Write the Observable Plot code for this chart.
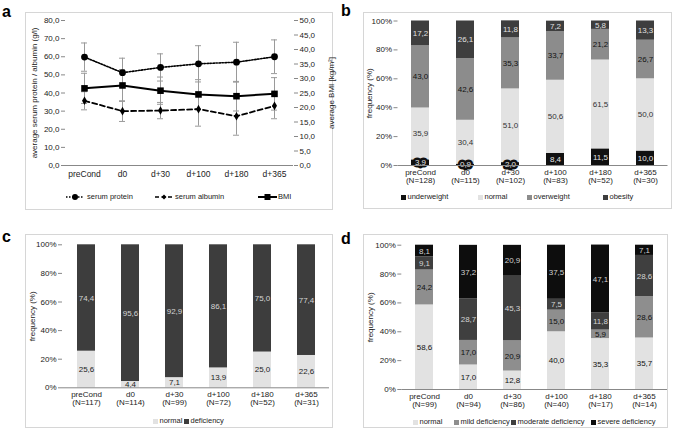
<!DOCTYPE html>
<html><head><meta charset="utf-8">
<script src="https://cdn.jsdelivr.net/npm/d3@7"></script>
<script src="https://cdn.jsdelivr.net/npm/@observablehq/plot@0.6"></script>
<style>
html,body{margin:0;padding:0;background:#fff;}
#root{position:relative;width:676px;height:438px;overflow:hidden;font-family:"Liberation Sans",Arial,sans-serif;}
.box{position:absolute;border:1px solid #d6d6d6;box-sizing:border-box;}
.panel{position:absolute;}
.panel svg{overflow:visible;display:block;}
.letter{position:absolute;font-weight:bold;font-size:16px;line-height:16px;color:#000;}
.item{position:absolute;display:flex;align-items:center;height:10px;font-size:7.5px;line-height:10px;color:#222;white-space:nowrap;}
.sw{display:inline-block;width:5px;height:5px;margin-right:1.5px;}
</style></head><body><div id="root"></div>
<script>
// ---------- data ----------
const categories = ["preCond", "d0", "d+30", "d+100", "d+180", "d+365"];

// panel a
const proteinMean = [59.8, 51.2, 54.1, 56.1, 57.0, 60.0];
const proteinSD   = [7.8, 8.0, 7.5, 10.0, 11.0, 9.3];
const albuminMean = [35.7, 30.0, 30.3, 31.1, 27.2, 32.9];
const albuminSD   = [5.0, 5.7, 4.5, 9.4, 10.5, 7.1];
const bmiMean     = [26.6, 27.6, 25.8, 24.5, 23.9, 24.7];
const bmiSD       = [5.2, 5.5, 4.7, 5.1, 5.1, 5.6];
const leftTicks   = [0, 10, 20, 30, 40, 50, 60, 70, 80];
const rightTicks  = [0, 5, 10, 15, 20, 25, 30, 35, 40, 45, 50];
const seriesA     = ["serum protein", "serum albumin", "BMI"];

// panel b
const nB          = [128, 115, 102, 83, 52, 30];
const groupsB     = ["underweight", "normal", "overweight", "obesity"];
const underweight = [3.9, 0.9, 2.0, 8.4, 11.5, 10.0];
const normalB     = [35.9, 30.4, 51.0, 50.6, 61.5, 50.0];
const overweight  = [43.0, 42.6, 35.3, 33.7, 21.2, 26.7];
const obesity     = [17.2, 26.1, 11.8, 7.2, 5.8, 13.3];

// panel c
const nC          = [117, 114, 99, 72, 52, 31];
const groupsC     = ["normal", "deficiency"];
const normalC     = [25.6, 4.4, 7.1, 13.9, 25.0, 22.6];
const deficiencyC = [74.4, 95.6, 92.9, 86.1, 75.0, 77.4];

// panel d
const nD          = [99, 94, 86, 40, 17, 14];
const groupsD     = ["normal", "mild deficiency", "moderate deficiency", "severe deficiency"];
const normalD     = [58.6, 17.0, 12.8, 40.0, 35.3, 35.7];
const mildD       = [24.2, 17.0, 20.9, 15.0, 5.9, 28.6];
const moderateD   = [9.1, 28.7, 45.3, 7.5, 11.8, 28.6];
const severeD     = [8.1, 37.2, 20.9, 37.5, 47.1, 7.1];

const pctTicks    = [0, 20, 40, 60, 80, 100];

// ---------- helpers ----------
const FONT = '"Liberation Sans", Arial, sans-serif';
const fmt1 = v => v.toFixed(1).replace(".", ",");
const root = document.getElementById("root");
function add(html) { root.insertAdjacentHTML("beforeend", html); }
function place(svg, left, top) {
  const d = document.createElement("div");
  d.className = "panel"; d.style.left = left + "px"; d.style.top = top + "px";
  d.appendChild(svg); root.appendChild(d);
}

// boxes and letters
add('<div class="box" style="left:25px;top:12px;width:308px;height:198px"></div>');
add('<div class="box" style="left:363px;top:12px;width:309px;height:197px"></div>');
add('<div class="box" style="left:25px;top:234px;width:308px;height:194px"></div>');
add('<div class="box" style="left:363px;top:234px;width:305px;height:194px"></div>');
add('<div class="letter" style="left:2px;top:4px">a</div>');
add('<div class="letter" style="left:341px;top:3px">b</div>');
add('<div class="letter" style="left:2px;top:229px">c</div>');
add('<div class="letter" style="left:341px;top:231px">d</div>');

// ---------- panel a ----------
const bmiFactor = 80 / 50;
const rowsA = [];
categories.forEach((c, i) => {
  rowsA.push({cat: c, series: seriesA[0], value: proteinMean[i], sd: proteinSD[i]});
  rowsA.push({cat: c, series: seriesA[1], value: albuminMean[i], sd: albuminSD[i]});
  rowsA.push({cat: c, series: seriesA[2], value: bmiMean[i] * bmiFactor, sd: bmiSD[i] * bmiFactor});
});
const sel = s => rowsA.filter(d => d.series === s);

const plotA = Plot.plot({
  width: 308, height: 175,
  marginLeft: 40, marginRight: 40, marginTop: 8, marginBottom: 22,
  style: {fontFamily: FONT, fontSize: "8px", color: "#222", background: "none", overflow: "visible"},
  x: {type: "band", domain: categories, padding: 0},
  y: {domain: [0, 80]},
  marks: [
    Plot.axisY({ticks: leftTicks, tickFormat: fmt1, tickSize: 4, tickPadding: 2, stroke: "#888", fill: "#222", line: true,
      label: "average serum protein / albumin (g/l)", labelAnchor: "center", labelOffset: 34, labelArrow: false}),
    Plot.axisY({anchor: "right", ticks: rightTicks.map(v => v * bmiFactor), tickFormat: v => fmt1(v / bmiFactor),
      tickSize: 4, tickPadding: 2, stroke: "#888", fill: "#222", line: true,
      label: "average BMI [kg/m²]", labelAnchor: "center", labelOffset: 40, labelArrow: false}),
    Plot.axisX({tickSize: 0, tickPadding: 5, fill: "#222", fontSize: 8.5, label: null}),
    Plot.ruleY([0], {stroke: "#888"}),
    Plot.ruleX(rowsA, {x: "cat", y1: d => d.value - d.sd, y2: d => d.value + d.sd, stroke: "#9a9a9a", strokeWidth: 1}),
    Plot.tickY(rowsA, {x: "cat", y: d => d.value - d.sd, stroke: "#9a9a9a", insetLeft: 16, insetRight: 16}),
    Plot.tickY(rowsA, {x: "cat", y: d => d.value + d.sd, stroke: "#9a9a9a", insetLeft: 16, insetRight: 16}),
    Plot.line(sel(seriesA[0]), {x: "cat", y: "value", stroke: "#000", strokeWidth: 1.6, strokeDasharray: "1.5,1.5"}),
    Plot.line(sel(seriesA[1]), {x: "cat", y: "value", stroke: "#000", strokeWidth: 1.8, strokeDasharray: "5,3"}),
    Plot.line(sel(seriesA[2]), {x: "cat", y: "value", stroke: "#000", strokeWidth: 2}),
    Plot.dot(sel(seriesA[0]), {x: "cat", y: "value", r: 3.4, fill: "#000", symbol: "circle"}),
    Plot.dot(sel(seriesA[1]), {x: "cat", y: "value", r: 2.6, fill: "#000", symbol: "diamond"}),
    Plot.dot(sel(seriesA[2]), {x: "cat", y: "value", r: 3.7, fill: "#000", symbol: "square"})
  ]
});
place(plotA, 25, 12);

// legend a
add('<div class="item" style="left:66px;top:192px"><svg width="18" height="8" style="margin-right:3px"><line x1="0" y1="4" x2="18" y2="4" stroke="#000" stroke-width="1.5" stroke-dasharray="1.5,1.5"/><circle cx="9" cy="4" r="3" fill="#000"/></svg>' + seriesA[0] + '</div>');
add('<div class="item" style="left:155px;top:192px"><svg width="18" height="8" style="margin-right:2px"><line x1="0" y1="4" x2="18" y2="4" stroke="#000" stroke-width="1.6" stroke-dasharray="4,2.5"/><polygon points="9,1.5 11.5,4 9,6.5 6.5,4" fill="#000"/></svg>' + seriesA[1] + '</div>');
add('<div class="item" style="left:258px;top:192px"><svg width="19" height="8" style="margin-right:1px"><line x1="0" y1="4" x2="19" y2="4" stroke="#000" stroke-width="2"/><rect x="6.5" y="1" width="6" height="6" fill="#000"/></svg>' + seriesA[2] + '</div>');

// ---------- stacked panels ----------
function stacked({groups, values, ns, colors, textColors, haloGroups, width, height, mL, mR, mT, mB, labelOffset}) {
  const rows = [];
  groups.forEach((g, gi) => categories.forEach((c, i) => rows.push({cat: c, group: g, value: values[gi][i]})));
  const marks = [
    Plot.axisY({ticks: pctTicks, tickFormat: d => d + "%", tickSize: 4, tickPadding: 2, stroke: "#888", fill: "#222", line: true,
      label: "frequency (%)", labelAnchor: "center", labelOffset, labelArrow: false}),
    Plot.axisX({tickSize: 0, tickPadding: 4, fill: "#222", label: null,
      tickFormat: c => c + "\n(N=" + ns[categories.indexOf(c)] + ")"}),
    Plot.barY(rows, {x: "cat", y: "value", fill: "group"})
  ];
  if (haloGroups) {
    // small segments get a dark label box, as in the original
    marks.push(Plot.text(rows, Plot.stackY({x: "cat", y: "value", z: "group",
      text: d => haloGroups.includes(d.group) && d.value < 5 ? fmt1(d.value) : "",
      fill: "#111", stroke: "#111", strokeWidth: 5, strokeLinejoin: "round", fontSize: 8})));
  }
  groups.forEach((g, gi) => {
    marks.push(Plot.text(rows, Plot.stackY({x: "cat", y: "value", z: "group",
      text: d => d.group === g ? fmt1(d.value) : "", fill: textColors[gi], fontSize: 8})));
  });
  marks.push(Plot.ruleY([0], {stroke: "#888"}));
  return Plot.plot({
    width, height, marginLeft: mL, marginRight: mR, marginTop: mT, marginBottom: mB,
    style: {fontFamily: FONT, fontSize: "8px", color: "#222", background: "none", overflow: "visible"},
    x: {type: "band", domain: categories, paddingInner: 0.6, paddingOuter: 0.3},
    y: {domain: [0, 100]},
    color: {domain: groups, range: colors},
    marks
  });
}
function legend(items, colors, top) {
  items.forEach((it, i) => add('<div class="item" style="left:' + it[1] + 'px;top:' + top + 'px"><span class="sw" style="background:' + colors[i] + '"></span>' + it[0] + '</div>'));
}

// panel b
const colorsB = ["#111111", "#e2e2e2", "#8c8c8c", "#3e3e3e"];
place(stacked({groups: groupsB, values: [underweight, normalB, overweight, obesity], ns: nB,
  colors: colorsB, textColors: ["#e6e6e6", "#333", "#111", "#e0e0e0"], haloGroups: ["underweight"],
  width: 308, height: 180, mL: 34.5, mR: 3.5, mT: 8.5, mB: 27, labelOffset: 32}), 363, 12);
legend([[groupsB[0], 401], [groupsB[1], 478], [groupsB[2], 527], [groupsB[3], 603]], colorsB, 192);

// panel c
const colorsC = ["#e2e2e2", "#3d3d3d"];
place(stacked({groups: groupsC, values: [normalC, deficiencyC], ns: nC,
  colors: colorsC, textColors: ["#222", "#d4d4d4"],
  width: 308, height: 180, mL: 37, mR: 4, mT: 12.3, mB: 24.7, labelOffset: 33}), 25, 232);
legend([[groupsC[0], 153], [groupsC[1], 184]], colorsC, 416);

// panel d
const colorsD = ["#e2e2e2", "#8e8e8e", "#3f3f3f", "#0d0d0d"];
place(stacked({groups: groupsD, values: [normalD, mildD, moderateD, severeD], ns: nD,
  colors: colorsD, textColors: ["#111", "#111", "#d4d4d4", "#cfcfcf"],
  width: 305, height: 180, mL: 38.3, mR: 1, mT: 12.7, mB: 23, labelOffset: 34}), 363, 232);
legend([[groupsD[0], 413], [groupsD[1], 454], [groupsD[2], 511], [groupsD[3], 591]], colorsD, 417);
</script></body></html>
